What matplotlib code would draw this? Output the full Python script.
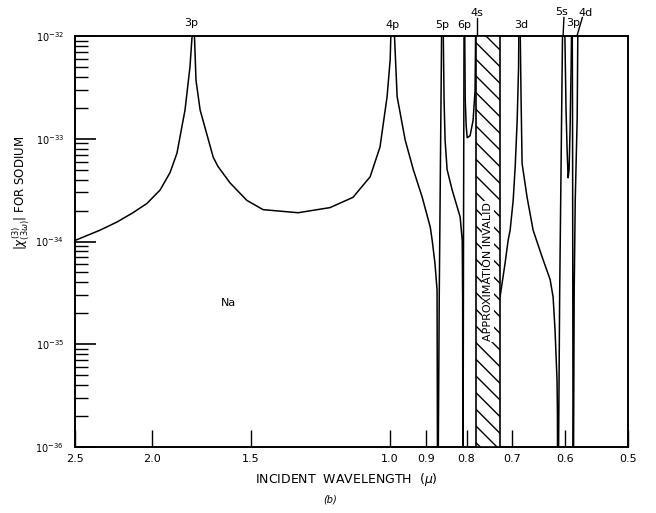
import numpy as np
import matplotlib
matplotlib.use("Agg")
import matplotlib.pyplot as plt
from matplotlib.ticker import FixedLocator, FixedFormatter, NullLocator, LogLocator

# curve pieces: incident wavelength (micron), log10 |chi(3)(3w)|
# (values below -36 / above -32 mark the zeros and resonances running off the frame)
seg_a_wl = [2.5, 2.325, 2.212, 2.112, 2.028, 1.952, 1.896, 1.858, 1.815, 1.789, 1.778, 1.775]
seg_a_lg = [-33.99, -33.89, -33.81, -33.72, -33.63, -33.50, -33.33, -33.14, -32.72, -32.30, -32.0, -31.5]

seg_b_wl = [1.775, 1.758, 1.737, 1.672, 1.649, 1.592, 1.516, 1.446, 1.306, 1.190, 1.113, 1.059,
            1.029, 1.008, 0.999, 0.993]
seg_b_lg = [-31.5, -32.43, -32.72, -33.18, -33.27, -33.43, -33.60, -33.69, -33.72, -33.67, -33.57,
            -33.37, -33.08, -32.59, -32.23, -31.5]

seg_c_wl = [0.993, 0.979, 0.9565, 0.934, 0.910, 0.889, 0.884, 0.877, 0.8716, 0.870, 0.866, 0.8625, 0.859]
seg_c_lg = [-31.5, -32.59, -33.01, -33.30, -33.57, -33.86, -33.99, -34.21, -34.47, -37.0, -34.5, -33.0, -31.5]

seg_d_wl = [0.8575, 0.854, 0.8515, 0.8465, 0.834, 0.815, 0.810, 0.809, 0.8085, 0.807, 0.8055]
seg_d_lg = [-31.5, -32.62, -33.01, -33.30, -33.50, -33.76, -33.99, -34.57, -37.0, -34.0, -31.5]

seg_e_wl = [0.805, 0.803, 0.8008, 0.7984, 0.7917, 0.7848, 0.7803, 0.778]
seg_e_lg = [-31.5, -32.62, -32.87, -32.99, -32.97, -32.82, -32.53, -31.5]

seg_f_wl = [0.7256, 0.715, 0.7088, 0.7046, 0.6984, 0.6943, 0.6903, 0.6875, 0.6863]
seg_f_lg = [-34.54, -34.21, -33.99, -33.89, -33.60, -33.27, -32.82, -32.30, -31.5]

seg_g_wl = [0.6855, 0.6825, 0.6805, 0.6707, 0.659, 0.642, 0.6272, 0.6218, 0.6183, 0.6147, 0.614,
            0.6132, 0.610, 0.607, 0.604]
seg_g_lg = [-31.5, -32.62, -33.24, -33.57, -33.89, -34.15, -34.37, -34.54, -34.86, -35.35, -35.67,
            -37.0, -34.5, -33.0, -31.5]

seg_h_wl = [0.6022, 0.5988, 0.597, 0.5952, 0.5935, 0.5918, 0.590, 0.5883]
seg_h_lg = [-31.5, -32.72, -33.1, -33.38, -33.3, -32.9, -32.3, -31.5]

seg_i_wl = [0.5883, 0.5875, 0.5865, 0.5848, 0.583, 0.5797, 0.578]
seg_i_lg = [-31.5, -33.0, -37.0, -34.5, -33.6, -32.8, -31.5]

segments = [(seg_a_wl, seg_a_lg), (seg_b_wl, seg_b_lg), (seg_c_wl, seg_c_lg),
            (seg_d_wl, seg_d_lg), (seg_e_wl, seg_e_lg), (seg_f_wl, seg_f_lg),
            (seg_g_wl, seg_g_lg), (seg_h_wl, seg_h_lg), (seg_i_wl, seg_i_lg)]

# region where the approximation breaks down
invalid_lo, invalid_hi = 0.7255, 0.778

# level labels along the top
level_names = ["3p", "4p", "5p", "6p", "4s", "3d", "5s", "3p", "4d"]
level_wl = [1.785, 0.993, 0.858, 0.806, 0.776, 0.683, 0.606, 0.586, 0.566]

x_ticks = [2.5, 2.0, 1.5, 1.0, 0.9, 0.8, 0.7, 0.6, 0.5]
x_tick_labels = ["2.5", "2.0", "1.5", "1.0", "0.9", "0.8", "0.7", "0.6", "0.5"]
y_ticks = [1e-36, 1e-35, 1e-34, 1e-33, 1e-32]
y_tick_labels = [r"$10^{-36}$", r"$10^{-35}$", r"$10^{-34}$", r"$10^{-33}$", r"$10^{-32}$"]

plt.rcParams.update({
    "font.family": "DejaVu Sans",
    "mathtext.fontset": "dejavusans",
    "hatch.linewidth": 1.0,
})

W, H = 656, 513
fig = plt.figure(figsize=(W / 100, H / 100), dpi=100)
ax = fig.add_axes([75 / W, 1 - 447 / H, (628 - 75) / W, (447 - 36) / H])
ax.set_xscale("log")
ax.set_yscale("log")
ax.set_xlim(2.5, 0.5)
ax.set_ylim(1e-36, 1e-32)

for wl, lg in segments:
    ax.plot(wl, 10.0 ** np.array(lg), color="black", lw=1.1, solid_joinstyle="round")

ax.axvspan(invalid_lo, invalid_hi, facecolor="white", edgecolor="black", hatch="\\\\", lw=1.2, zorder=3)
ax.text(np.sqrt(invalid_lo * invalid_hi), 10 ** -34.29, "APPROXIMATION INVALID", rotation=90,
        ha="center", va="center", fontsize=8, zorder=4,
        bbox=dict(facecolor="white", edgecolor="none", pad=0.6))

ax.text(1.6, 10 ** -34.6, "Na", fontsize=8, ha="center", va="center")

# labels and leader lines at the top edge
tr = ax.get_xaxis_transform()
label_y = [1.032, 1.027, 1.027, 1.027, 1.056, 1.027, 1.058, 1.032, 1.056]
for name, x, y in zip(level_names, level_wl, label_y):
    ax.text(x, y, name, transform=tr, ha="center", va="center", fontsize=8)
ax.plot([0.777, 0.777], [1.0, 1.043], transform=tr, color="black", lw=1.0, clip_on=False)
ax.plot([0.604, 0.6025], [1.0, 1.045], transform=tr, color="black", lw=1.0, clip_on=False)
ax.plot([0.5795, 0.571], [1.003, 1.045], transform=tr, color="black", lw=1.0, clip_on=False)

for s in ax.spines.values():
    s.set_linewidth(1.4)

ax.xaxis.set_major_locator(FixedLocator(x_ticks))
ax.xaxis.set_major_formatter(FixedFormatter(x_tick_labels))
ax.xaxis.set_minor_locator(NullLocator())
ax.yaxis.set_major_locator(FixedLocator(y_ticks))
ax.yaxis.set_major_formatter(FixedFormatter(y_tick_labels))
ax.yaxis.set_minor_locator(LogLocator(base=10, subs=np.arange(2, 10)))
ax.yaxis.set_minor_formatter(FixedFormatter([]))
ax.tick_params(axis="x", which="major", direction="in", length=12, width=1.0,
               labelsize=8, pad=5, top=False)
ax.tick_params(axis="y", which="major", direction="in", length=15, width=1.2,
               labelsize=7, pad=8, right=False)
ax.tick_params(axis="y", which="minor", direction="in", length=9, width=1.0, right=False)

fig.text(346 / W, 1 - 480 / H, r"INCIDENT  WAVELENGTH  ($\mu$)", ha="center", va="center", fontsize=9)
fig.text(330 / W, 1 - 500 / H, "(b)", ha="center", va="center", fontsize=7, style="italic")
fig.text(21 / W, 1 - 193 / H, r"$|\chi^{(3)}_{(3\omega)}|$ FOR SODIUM", rotation=90,
         ha="center", va="center", fontsize=8.5)

fig.savefig("out.png", dpi=100, facecolor="white")
